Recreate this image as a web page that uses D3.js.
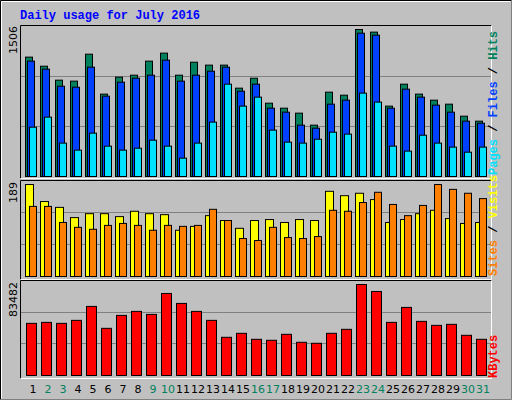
<!DOCTYPE html>
<html><head><meta charset="utf-8">
<script src="https://cdn.jsdelivr.net/npm/d3@7"></script>
<style>body{margin:0;background:#fff}</style></head>
<body><svg id="c" width="512" height="400"></svg>
<script>
const days = d3.range(1,32);
const weekend = [2,3,9,10,16,17,23,24,30,31];
const hits = [1223,1130,987,977,1253,844,1018,1038,1182,1264,1038,1171,1141,1141,905,1007,751,700,649,526,864,833,1506,1479,721,946,844,782,741,618,567];
const files = [1182,1100,925,915,1120,823,966,1007,1038,1192,977,1038,1079,1120,874,946,700,659,526,495,741,782,1468,1448,700,895,813,731,659,567,546];
const pages = [505,608,342,270,444,311,270,290,372,311,188,342,557,946,721,813,475,352,342,382,454,434,854,762,311,260,423,342,301,249,301];
const visits = [189,154,142,121,129,129,123,134,129,127,95,103,125,115,99,115,117,111,117,115,175,166,171,158,111,117,129,136,119,109,111];
const sites = [144,144,111,101,97,105,109,105,95,105,103,105,138,115,78,74,101,80,78,82,136,134,152,173,148,125,146,189,179,171,160];
const kbytes = [47838,48752,47838,50580,63378,43267,55151,58807,56065,75261,66120,58807,50580,35041,38697,33212,32298,37783,30470,29556,38697,42353,83482,77089,48752,62464,49666,46010,46924,36869,33212];
const maxLabels = ["1506","189","83482"];

const svg = d3.select("#c");
svg.append("rect").attr("width",512).attr("height",400).attr("fill","#c0c0c0");
// outer bevel
svg.append("path").attr("d","M0.5,399.5V0.5H511.5").attr("stroke","#000").attr("fill","none");
svg.append("path").attr("d","M1.5,398.5V1.5H510.5").attr("stroke","#fff").attr("fill","none");
svg.append("path").attr("d","M511.5,0.5V399.5H0.5").attr("stroke","#808080").attr("fill","none");

svg.append("text").attr("x",20).attr("y",19).text("Daily usage for July 2016")
  .attr("font-family","Liberation Mono, DejaVu Sans Mono, monospace").attr("font-weight","bold")
  .attr("font-size",12).attr("fill","#0000ff");

const X0=20,X1=491;
const x = d3.scaleBand().domain(days).range([25,25+15*31]).paddingInner(0);
function frame(top,bot){
  svg.append("path").attr("d",`M${X0+.5},${bot+.5}V${top+.5}H${X1+.5}`).attr("stroke","#000").attr("fill","none");
  svg.append("path").attr("d",`M${X1+.5},${top+.5}V${bot+.5}H${X0+.5}`).attr("stroke","#fff").attr("fill","none");
}
function grid(top,base){
  const h=base-top;
  [1/3,2/3].forEach(f=>svg.append("line").attr("x1",X0+1).attr("x2",X1).attr("y1",Math.round(base-h*f)+.5).attr("y2",Math.round(base-h*f)+.5).attr("stroke","#808080"));
}
function bars(data,y,dx,w,col){
  svg.append("g").selectAll("rect").data(days).join("rect")
    .attr("x",d=>x(d)+dx+.5).attr("width",w).attr("y",(d,i)=>y(data[i])+.5)
    .attr("height",(d,i)=>y(0)-y(data[i])).attr("fill",col).attr("stroke","#000");
}
function leftLabel(t,yTop){
  svg.append("text").attr("transform",`translate(17,${yTop}) rotate(-90)`).attr("text-anchor","end")
   .attr("font-family","DejaVu Sans, sans-serif").attr("font-size",11).text(t);
}
function rightLabel(parts,yBot){
  const t=svg.append("text").attr("transform",`translate(497,${yBot}) rotate(-90)`)
   .attr("font-family","Liberation Mono, DejaVu Sans Mono, monospace").attr("font-weight","bold").attr("font-size",12);
  parts.forEach(([s,c])=>t.append("tspan").text(s).attr("fill",c));
}
// top panel
frame(25,178); 
const yT=d3.scaleLinear().domain([0,1506]).range([176,29]);
grid(26,176);
bars(hits,yT,0,7,"#00805c");
bars(files,yT,2,7,"#0040ff");
bars(pages,yT,4,7,"#00e0ff");
leftLabel(maxLabels[0],26);
rightLabel([["Pages","#00e0ff"],[" / ","#000"],["Files","#0040ff"],[" / ","#000"],["Hits","#00805c"]],175);
// middle
frame(180,279);
const yM=d3.scaleLinear().domain([0,189]).range([276,184]);
grid(180,276);
bars(visits,yM,0,8,"#ffff00");
bars(sites,yM,4,7,"#ff8000");
leftLabel(maxLabels[1],182);
rightLabel([["Sites","#ff8000"],[" / ","#000"],["Visits","#ffff00"]],276);
// bottom
frame(280,378);
const yB=d3.scaleLinear().domain([0,83482]).range([375,284]);
grid(280,375);
bars(kbytes,yB,1,10,"#ff0000");
leftLabel(maxLabels[2],282);
rightLabel([["KBytes","#ff0000"]],378);
// day labels
svg.append("g").selectAll("text").data(days).join("text")
  .attr("x",d=>x(d)+8).attr("y",393).attr("text-anchor","middle")
  .attr("font-family","DejaVu Sans, sans-serif").attr("font-size",11)
  .attr("fill",d=>weekend.includes(d)?"#00805c":"#000").text(d=>d);
</script></body></html>
